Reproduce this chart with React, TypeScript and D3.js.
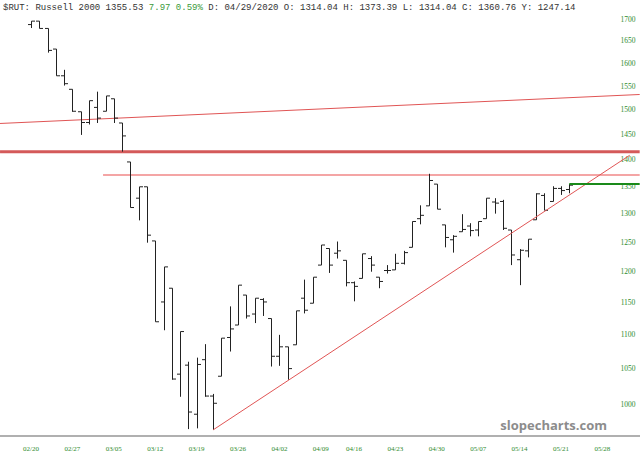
import React from "react";
import * as d3 from "d3";

const dates = ["02/20","02/21","02/24","02/25","02/26","02/27","02/28","03/02","03/03","03/04","03/05","03/06","03/09","03/10","03/11","03/12","03/13","03/16","03/17","03/18","03/19","03/20","03/23","03/24","03/25","03/26","03/27","03/30","03/31","04/01","04/02","04/03","04/06","04/07","04/08","04/09","04/13","04/14","04/15","04/16","04/17","04/20","04/21","04/22","04/23","04/24","04/27","04/28","04/29","04/30","05/01","05/04","05/05","05/06","05/07","05/08","05/11","05/12","05/13","05/14","05/15","05/18","05/19","05/20","05/21","05/22"];
const open = [1687,1695,1678,1631,1572,1543,1496,1474,1505,1497,1523,1473,1396,1328,1349,1252,1151,1173,1042,1055,986,1063,1011,1039,1096,1115,1162,1132,1155,1125,1068,1082,1085,1157,1149,1211,1239,1231,1219,1182,1189,1222,1191,1202,1203,1214,1241,1291,1314.04,1354,1280,1254,1268,1278,1271,1291,1321,1322,1271,1220,1235,1289,1333,1322,1346,1344];
const high = [1695,1695,1678,1631,1585,1543,1496,1519,1538,1529,1523,1473,1396,1349,1349,1252,1208,1173,1105,1060,1066,1086,1014,1095,1144,1178,1162,1157,1157,1125,1100,1082,1137,1187,1191,1245,1239,1251,1219,1184,1230,1226,1191,1211,1230,1235,1286,1315,1373.39,1354,1280,1262,1299,1283,1286,1328,1328,1325,1271,1238,1255,1337,1337,1350,1350,1354];
const low = [1679,1678,1623,1572,1551,1496,1449,1470,1473,1497,1473,1416,1311,1288,1249,1120,1107,1034,1010,966,967,1010,965,1039,1075,1115,1125,1118,1129,1053,1054,1034,1085,1133,1149,1211,1198,1222,1176,1152,1189,1200,1173,1197,1203,1212,1241,1281,1314.04,1308,1241,1232,1268,1260,1260,1291,1300,1271,1211,1178,1224,1289,1306,1322,1334,1337];
const close = [1695,1678,1628,1572,1555,1497,1474,1519,1483,1529,1483,1447,1311,1349,1262,1120,1208,1035,1105,989,1056,1011,1001,1095,1109,1178,1129,1157,1151,1068,1082,1050,1137,1138,1191,1245,1211,1235,1182,1176,1230,1211,1184,1202,1214,1232,1286,1297,1360.76,1308,1258,1260,1272,1270,1286,1328,1319,1274,1228,1236,1255,1336,1306,1346,1342,1352];

const yTicks = [1000,1050,1100,1150,1200,1250,1300,1350,1400,1450,1500,1550,1600,1650,1700];
const xTickIdx = [0,5,10,15,20,25,30,35,39,44,49,54,59,64,69];
const xTickLabels = ["02/20","02/27","03/05","03/12","03/19","03/26","04/02","04/09","04/16","04/23","04/30","05/07","05/14","05/21","05/28"];

// annotation lines in data coordinates: [index, value]
const upperLine = [[-3.74, 1472], [73.5, 1532]];
const resistanceLine = [[-3.74, 1416], [73.5, 1416]];
const pinkLine = [[8.7, 1371], [73.5, 1371]];
const greenLine = [[65, 1354], [73.5, 1354]];
const trendLine = [[22, 965], [72.3, 1409]];

export default function App() {
  const W = 640, H = 456;
  const x = d3.scaleLinear().domain([0, 64]).range([31, 561]);
  const y = d3.scaleLog().domain([1000, 1700]).range([404, 19]);
  const line = d3.line<number[]>().x(d => x(d[0])).y(d => y(d[1]));
  const t = 3.5;

  return (
    <svg width={W} height={H} style={{ position: "absolute", left: 0, top: 0, background: "#fff" }}>
      <rect width={W} height={H} fill="#fff" />
      {/* header */}
      <text x={3} y={10} fontFamily="'Liberation Mono', 'DejaVu Sans Mono', monospace" fontSize={9} fill="#333" xmlSpace="preserve">
        <tspan>$RUT: Russell 2000 1355.53 </tspan>
        <tspan fill="#3a9a3a">7.97 0.59%</tspan>
        <tspan> D: 04/29/2020 O: 1314.04 H: 1373.39 L: 1314.04 C: 1360.76 Y: 1247.14</tspan>
      </text>

      {/* y labels */}
      {yTicks.map(v => (
        <text key={v} x={628} y={y(v)} dy="0.35em" textAnchor="middle" fontFamily="'Liberation Serif', serif" fontSize={7.5} fill="#2e8b2e">{v}</text>
      ))}

      {/* annotation lines */}
      <path d={line(upperLine) || ""} stroke="#e05555" strokeWidth={1} fill="none" />
      <path d={line(resistanceLine) || ""} stroke="#d45a5a" strokeWidth={3} fill="none" />
      <path d={line(pinkLine) || ""} stroke="#f4a5a5" strokeWidth={2} fill="none" />

      {/* OHLC bars */}
      {dates.map((d, i) => {
        const cx = Math.round(x(i)) + 0.5;
        return (
          <g key={d} stroke="#222" strokeWidth={1}>
            <line x1={cx} x2={cx} y1={y(high[i])} y2={y(low[i])} />
            <line x1={cx - t} x2={cx} y1={y(open[i])} y2={y(open[i])} />
            <line x1={cx} x2={cx + t} y1={y(close[i])} y2={y(close[i])} />
          </g>
        );
      })}

      <path d={line(trendLine) || ""} stroke="#e05555" strokeWidth={1} fill="none" />
      <path d={line(greenLine) || ""} stroke="#1a8a1a" strokeWidth={2} fill="none" />

      {/* watermark */}
      <text x={607} y={430} textAnchor="end" fontFamily="'Open Sans', 'DejaVu Sans', sans-serif" fontWeight="bold" fontSize={13} fill="#8c8c8c">slopecharts.com</text>

      {/* bottom axis line */}
      <line x1={0} x2={W} y1={436} y2={436} stroke="#b0b0b0" strokeWidth={2} />
      {xTickIdx.map((ix, k) => (
        <text key={k} x={x(ix)} y={451} textAnchor="middle" fontFamily="'Liberation Serif', serif" fontSize={7} fill="#2e8b2e">{xTickLabels[k]}</text>
      ))}
    </svg>
  );
}
